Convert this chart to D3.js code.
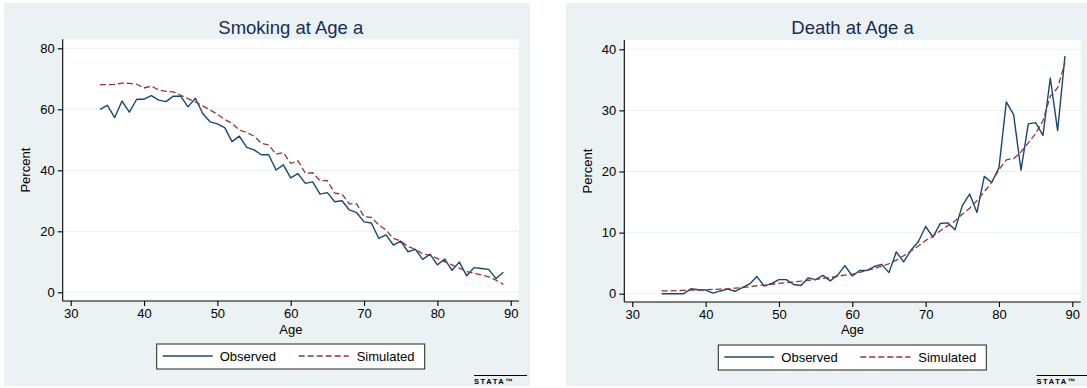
<!DOCTYPE html>
<html lang="en">
<head>
    <meta charset="UTF-8">
    <title>Smoking and death at age a</title>

    <style>
    body { margin: 0; background: #fff; }
    text { font-family: "Liberation Sans", Arial, sans-serif; }
    </style>

    <script type="text/javascript" src="https://d3js.org/d3.v7.min.js"></script>
    <script type="text/javascript">

    // Data: ages 34..89
    var ages = [34,35,36,37,38,39,40,41,42,43,44,45,46,47,48,49,50,51,52,53,54,55,56,57,58,59,60,61,
                62,63,64,65,66,67,68,69,70,71,72,73,74,75,76,77,78,79,80,81,82,83,84,85,86,87,88,89];

    var smokeObserved = [60.0,61.3,57.3,62.7,59.1,63.3,63.3,64.5,63.0,62.5,64.3,64.3,60.8,63.6,58.6,55.9,
                         55.2,54.0,49.4,51.2,47.5,46.7,45.1,45.1,40.1,41.8,37.5,38.9,35.7,36.2,32.2,32.7,
                         29.7,30.0,27.0,26.1,23.1,22.7,17.7,18.8,15.5,16.8,13.3,14.1,10.8,12.5,9.0,10.9,
                         7.2,9.9,5.4,8.1,7.8,7.5,4.5,6.6];
    var smokeSimulated = [68.1,68.1,68.2,68.6,68.5,68.2,67.0,67.6,66.3,65.9,65.7,64.6,63.5,62.4,61.1,59.8,
                          58.4,56.7,55.4,53.2,52.4,51.2,48.9,48.3,45.3,45.8,42.3,43.1,39.0,39.2,36.6,36.6,
                          32.5,32.2,29.0,29.0,24.8,24.6,22.1,20.4,17.7,16.8,15.0,14.1,12.6,12.2,11.1,10.0,
                          9.0,7.9,6.8,6.2,5.7,5.1,4.0,2.6];

    var deathObserved = [0,0,0,0,0.8,0.65,0.6,0.1,0.45,0.75,0.4,1.0,1.6,2.8,1.25,1.7,
                         2.3,2.3,1.5,1.35,2.6,2.3,3.0,2.1,3.05,4.6,2.9,3.8,3.8,4.45,4.8,3.45,
                         6.85,5.2,7.1,8.5,11.0,9.25,11.5,11.6,10.45,14.4,16.3,13.3,19.2,18.2,20.6,31.4,
                         29.3,20.2,27.8,28.0,25.9,35.3,26.7,38.9];
    var deathSimulated = [0.45,0.45,0.5,0.55,0.6,0.6,0.65,0.7,0.75,0.8,0.9,1.0,1.15,1.3,1.4,1.55,
                          1.7,1.8,1.95,2.05,2.2,2.3,2.5,2.65,2.85,3.05,3.2,3.5,3.8,4.1,4.5,4.9,
                          5.5,6.2,7.0,7.8,8.7,9.4,10.3,11.1,11.9,13.0,14.0,15.2,16.7,18.2,20.3,21.9,
                          22.1,23.2,24.7,26.2,28.3,32.3,33.7,37.8];

    var xTicks = [30,40,50,60,70,80,90];
    var smokeYTicks = [0,20,40,60,80];
    var deathYTicks = [0,10,20,30,40];
    var seriesNames = ["Observed", "Simulated"];

    var colObs = "#1a476f",
        colSim = "#90353b",
        colBack = "#eaf2f3";

    // Draw one Stata style panel
    function panel(svg, p) {
        var g = svg.append("g");

        g.append("rect")
         .attr("x", p.left).attr("y", 3)
         .attr("width", 526).attr("height", 383)
         .attr("fill", colBack);

        // plot region
        g.append("rect")
         .attr("x", p.px0).attr("y", p.py0)
         .attr("width", p.px1 - p.px0).attr("height", p.py1 - p.py0)
         .attr("fill", "#fff");

        var x = d3.scaleLinear().domain([30, 90]).range([p.x30, p.x90]);
        var y = d3.scaleLinear().domain([0, p.ymax]).range([p.y0, p.ytop]);

        // grid
        g.selectAll(".grid").data(p.yticks).enter().append("line")
         .attr("x1", p.px0).attr("x2", p.px1)
         .attr("y1", function(d) { return y(d); })
         .attr("y2", function(d) { return y(d); })
         .attr("stroke", colBack).attr("stroke-width", 1);

        // axes
        var ya = g.append("g")
                  .attr("transform", "translate(" + p.px0 + ",0)")
                  .call(d3.axisLeft(y).tickValues(p.yticks).tickSize(5).tickPadding(3));
        ya.select(".domain").attr("d", "M0," + p.py0 + "V" + p.py1);

        var xa = g.append("g")
                  .attr("transform", "translate(0," + p.py1 + ")")
                  .call(d3.axisBottom(x).tickValues(xTicks).tickSize(5).tickPadding(3));
        xa.select(".domain").attr("d", "M" + p.px0 + ",0H" + p.px1);

        [ya, xa].forEach(function(a) {
            a.selectAll("text").attr("font-size", 13).attr("fill", "#000")
             .attr("font-family", "Liberation Sans, Arial, sans-serif");
            a.selectAll("line, path").attr("stroke", "#000").attr("stroke-width", 1.1);
        });

        // lines
        var line = function(vals) {
            return d3.line()
                     .x(function(d, i) { return x(ages[i]); })
                     .y(function(d) { return y(d); })(vals);
        };
        g.append("path").attr("d", line(p.obs))
         .attr("fill", "none").attr("stroke", colObs).attr("stroke-width", 1.4)
         .attr("stroke-linejoin", "round");
        g.append("path").attr("d", line(p.sim))
         .attr("fill", "none").attr("stroke", colSim).attr("stroke-width", 1.3)
         .attr("stroke-dasharray", "6,3");

        // titles
        var cx = (p.px0 + p.px1) / 2;
        g.append("text").attr("x", cx).attr("y", 34)
         .attr("text-anchor", "middle").attr("font-size", 18.5).attr("fill", "#1c2b55")
         .text(p.title);
        g.append("text").attr("x", cx).attr("y", 333.5)
         .attr("text-anchor", "middle").attr("font-size", 13).text("Age");
        g.append("text")
         .attr("transform", "translate(" + (p.left + 26) + "," + ((p.py0 + p.py1) / 2) + ") rotate(-90)")
         .attr("text-anchor", "middle").attr("font-size", 13).text("Percent");

        // legend
        var lx = p.legX, ly = p.legY;
        g.append("rect").attr("x", lx).attr("y", ly).attr("width", 268).attr("height", 25)
         .attr("fill", "#fff").attr("stroke", "#222").attr("stroke-width", 1);
        g.append("line").attr("x1", lx + 6).attr("x2", lx + 56)
         .attr("y1", ly + 12).attr("y2", ly + 12)
         .attr("stroke", colObs).attr("stroke-width", 1.4);
        g.append("text").attr("x", lx + 63).attr("y", ly + 17)
         .attr("font-size", 13).text(seriesNames[0]);
        g.append("line").attr("x1", lx + 142).attr("x2", lx + 192)
         .attr("y1", ly + 12).attr("y2", ly + 12)
         .attr("stroke", colSim).attr("stroke-width", 1.3).attr("stroke-dasharray", "6,3");
        g.append("text").attr("x", lx + 200).attr("y", ly + 17)
         .attr("font-size", 13).text(seriesNames[1]);

        // stata logo
        var sx = p.logoX;
        g.append("line").attr("x1", sx).attr("x2", sx + 53).attr("y1", 375.5).attr("y2", 375.5)
         .attr("stroke", "#000").attr("stroke-width", 1);
        g.append("text").attr("x", sx).attr("y", 384)
         .attr("font-size", 7.5).attr("letter-spacing", 1.6).attr("font-weight", "bold")
         .text("STATA\u2122");
    }

    function grafico() {
        var svg = d3.select("body").append("svg")
                    .attr("width", 1087).attr("height", 388);

        panel(svg, {
            left: 4, px0: 62.7, px1: 519, py0: 39.3, py1: 301,
            x30: 70.7, x90: 510.7, y0: 292.3, ytop: 48.3, ymax: 80,
            yticks: smokeYTicks, obs: smokeObserved, sim: smokeSimulated,
            title: "Smoking at Age a", legX: 156.7, legY: 344, logoX: 474
        });
        panel(svg, {
            left: 566, px0: 624.3, px1: 1080.7, py0: 40, py1: 302,
            x30: 632.3, x90: 1072.3, y0: 293.7, ytop: 49.3, ymax: 40,
            yticks: deathYTicks, obs: deathObserved, sim: deathSimulated,
            title: "Death at Age a", legX: 718.3, legY: 345, logoX: 1036.5
        });
    }

    </script>
</head>
<body onload="grafico()">

</body>
</html>
